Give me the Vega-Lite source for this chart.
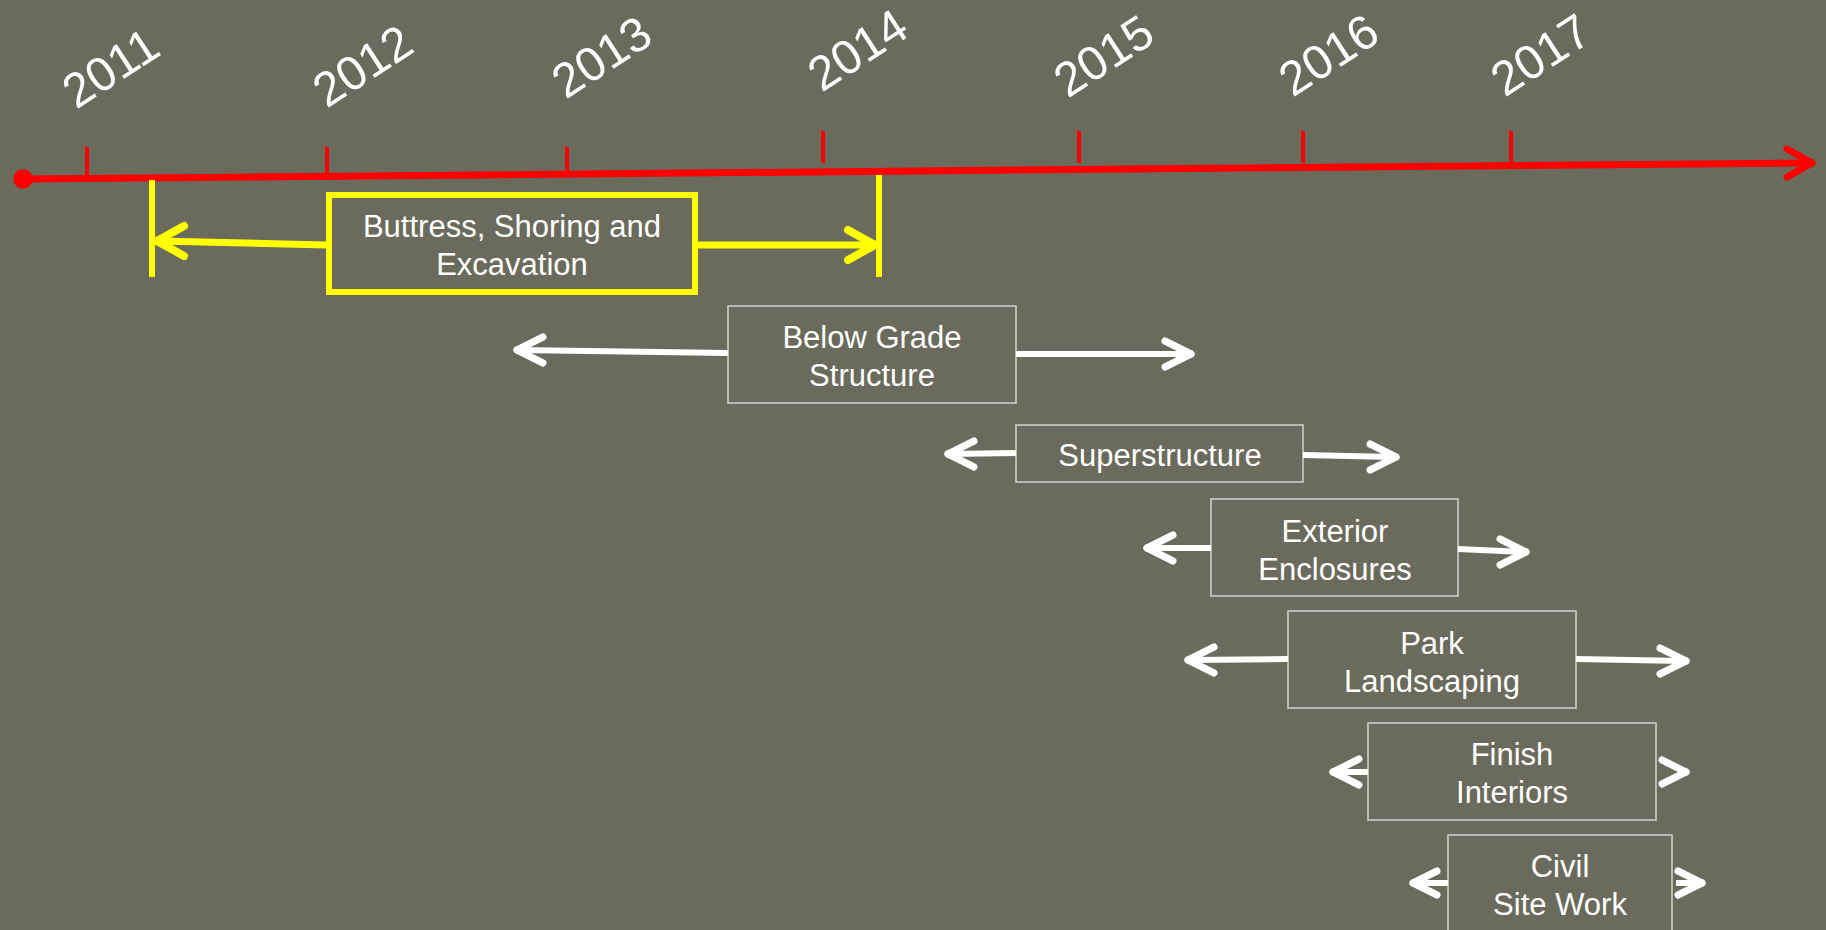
{
  "$schema": "https://vega.github.io/schema/vega-lite/v6.json",
  "width": 1826,
  "height": 930,
  "autosize": {"type": "none"},
  "padding": 0,
  "background": "#6a6b5d",
  "config": {"view": {"stroke": null}},
  "datasets": {
    "segs": [
      {"kind": "axis", "x": 23, "y": 179, "x2": 1810, "y2": 163},
      {"kind": "tick", "x": 87, "y": 147, "x2": 87, "y2": 176},
      {"kind": "tick", "x": 327, "y": 147, "x2": 327, "y2": 175},
      {"kind": "tick", "x": 567, "y": 147, "x2": 567, "y2": 175},
      {"kind": "tick", "x": 823, "y": 131, "x2": 823, "y2": 163},
      {"kind": "tick", "x": 1079, "y": 131, "x2": 1079, "y2": 163},
      {"kind": "tick", "x": 1303, "y": 131, "x2": 1303, "y2": 163},
      {"kind": "tick", "x": 1511, "y": 131, "x2": 1511, "y2": 163},
      {"kind": "redhead", "x": 1787, "y": 149, "x2": 1812, "y2": 163},
      {"kind": "redhead", "x": 1787, "y": 177, "x2": 1812, "y2": 163},
      {"kind": "yvert", "x": 152, "y": 180, "x2": 152, "y2": 277},
      {"kind": "yvert", "x": 879, "y": 175, "x2": 879, "y2": 277},
      {"kind": "yshaft", "x": 327, "y": 245, "x2": 158, "y2": 241},
      {"kind": "yhead", "x": 184, "y": 226, "x2": 157, "y2": 241},
      {"kind": "yhead", "x": 184, "y": 256, "x2": 157, "y2": 241},
      {"kind": "yshaft", "x": 697, "y": 245, "x2": 874, "y2": 245},
      {"kind": "yhead", "x": 848, "y": 230, "x2": 875, "y2": 245},
      {"kind": "yhead", "x": 848, "y": 260, "x2": 875, "y2": 245},
      {"kind": "wshaft", "x": 728, "y": 353, "x2": 518, "y2": 350},
      {"kind": "whead", "x": 543, "y": 337, "x2": 517, "y2": 350},
      {"kind": "whead", "x": 543, "y": 363, "x2": 517, "y2": 350},
      {"kind": "wshaft", "x": 1016, "y": 354, "x2": 1189, "y2": 354},
      {"kind": "whead", "x": 1165, "y": 341, "x2": 1191, "y2": 354},
      {"kind": "whead", "x": 1165, "y": 367, "x2": 1191, "y2": 354},
      {"kind": "wshaft", "x": 1016, "y": 453, "x2": 949, "y2": 454},
      {"kind": "whead", "x": 974, "y": 441, "x2": 948, "y2": 454},
      {"kind": "whead", "x": 974, "y": 467, "x2": 948, "y2": 454},
      {"kind": "wshaft", "x": 1303, "y": 455, "x2": 1394, "y2": 457},
      {"kind": "whead", "x": 1370, "y": 444, "x2": 1396, "y2": 457},
      {"kind": "whead", "x": 1370, "y": 470, "x2": 1396, "y2": 457},
      {"kind": "wshaft", "x": 1211, "y": 548, "x2": 1149, "y2": 548},
      {"kind": "whead", "x": 1173, "y": 535, "x2": 1147, "y2": 548},
      {"kind": "whead", "x": 1173, "y": 561, "x2": 1147, "y2": 548},
      {"kind": "wshaft", "x": 1458, "y": 549, "x2": 1524, "y2": 552},
      {"kind": "whead", "x": 1500, "y": 539, "x2": 1526, "y2": 552},
      {"kind": "whead", "x": 1500, "y": 565, "x2": 1526, "y2": 552},
      {"kind": "wshaft", "x": 1288, "y": 659, "x2": 1190, "y2": 660},
      {"kind": "whead", "x": 1214, "y": 647, "x2": 1188, "y2": 660},
      {"kind": "whead", "x": 1214, "y": 673, "x2": 1188, "y2": 660},
      {"kind": "wshaft", "x": 1576, "y": 659, "x2": 1684, "y2": 661},
      {"kind": "whead", "x": 1660, "y": 648, "x2": 1686, "y2": 661},
      {"kind": "whead", "x": 1660, "y": 674, "x2": 1686, "y2": 661},
      {"kind": "wshaft", "x": 1368, "y": 772, "x2": 1335, "y2": 772},
      {"kind": "whead", "x": 1359, "y": 759, "x2": 1333, "y2": 772},
      {"kind": "whead", "x": 1359, "y": 785, "x2": 1333, "y2": 772},
      {"kind": "whead", "x": 1662, "y": 760, "x2": 1686, "y2": 772},
      {"kind": "whead", "x": 1662, "y": 784, "x2": 1686, "y2": 772},
      {"kind": "wshaft", "x": 1448, "y": 883, "x2": 1415, "y2": 883},
      {"kind": "whead", "x": 1437, "y": 871, "x2": 1413, "y2": 883},
      {"kind": "whead", "x": 1437, "y": 895, "x2": 1413, "y2": 883},
      {"kind": "wshaft", "x": 1676, "y": 883, "x2": 1700, "y2": 883},
      {"kind": "whead", "x": 1678, "y": 871, "x2": 1702, "y2": 883},
      {"kind": "whead", "x": 1678, "y": 895, "x2": 1702, "y2": 883}
    ],
    "boxes": [
      {"kind": "yellow", "x": 329, "x2": 695, "y": 195, "y2": 292},
      {"kind": "white", "x": 728, "x2": 1016, "y": 306, "y2": 403},
      {"kind": "white", "x": 1016, "x2": 1303, "y": 425, "y2": 482},
      {"kind": "white", "x": 1211, "x2": 1458, "y": 499, "y2": 596},
      {"kind": "white", "x": 1288, "x2": 1576, "y": 611, "y2": 708},
      {"kind": "white", "x": 1368, "x2": 1656, "y": 723, "y2": 820},
      {"kind": "white", "x": 1448, "x2": 1672, "y": 835, "y2": 945}
    ],
    "years": [
      {"x": 112, "y": 70, "text": "2011"},
      {"x": 364, "y": 68, "text": "2012"},
      {"x": 603, "y": 59, "text": "2013"},
      {"x": 859, "y": 52, "text": "2014"},
      {"x": 1105, "y": 58, "text": "2015"},
      {"x": 1330, "y": 57, "text": "2016"},
      {"x": 1542, "y": 57, "text": "2017"}
    ],
    "labels": [
      {"x": 512, "y": 228, "text": "Buttress, Shoring and\nExcavation"},
      {"x": 872, "y": 339, "text": "Below Grade\nStructure"},
      {"x": 1160, "y": 457, "text": "Superstructure"},
      {"x": 1335, "y": 533, "text": "Exterior\nEnclosures"},
      {"x": 1432, "y": 645, "text": "Park\nLandscaping"},
      {"x": 1512, "y": 756, "text": "Finish\nInteriors"},
      {"x": 1560, "y": 868, "text": "Civil\nSite Work"}
    ],
    "dot": [{"x": 23, "y": 179}]
  },
  "layer": [
    {
      "data": {"name": "boxes"},
      "transform": [{"filter": "datum.kind == 'white'"}],
      "mark": {"type": "rect", "filled": false, "stroke": "#d4d4cc", "strokeWidth": 1.5},
      "encoding": {
        "x": {"field": "x", "type": "quantitative", "scale": {"domain": [0, 1826], "nice": false, "zero": false}, "axis": null},
        "x2": {"field": "x2"},
        "y": {"field": "y", "type": "quantitative", "scale": {"domain": [0, 930], "nice": false, "zero": false, "reverse": true}, "axis": null},
        "y2": {"field": "y2"}
      }
    },
    {
      "data": {"name": "boxes"},
      "transform": [{"filter": "datum.kind == 'yellow'"}],
      "mark": {"type": "rect", "filled": false, "stroke": "#ffff00", "strokeWidth": 6},
      "encoding": {
        "x": {"field": "x", "type": "quantitative", "scale": {"domain": [0, 1826], "nice": false, "zero": false}, "axis": null},
        "x2": {"field": "x2"},
        "y": {"field": "y", "type": "quantitative", "scale": {"domain": [0, 930], "nice": false, "zero": false, "reverse": true}, "axis": null},
        "y2": {"field": "y2"}
      }
    },
    {
      "data": {"name": "segs"},
      "transform": [{"filter": "datum.kind == 'axis'"}],
      "mark": {"type": "rule", "color": "#ff0000", "strokeWidth": 7},
      "encoding": {
        "x": {"field": "x", "type": "quantitative", "scale": {"domain": [0, 1826], "nice": false, "zero": false}, "axis": null},
        "x2": {"field": "x2"},
        "y": {"field": "y", "type": "quantitative", "scale": {"domain": [0, 930], "nice": false, "zero": false, "reverse": true}, "axis": null},
        "y2": {"field": "y2"}
      }
    },
    {
      "data": {"name": "segs"},
      "transform": [{"filter": "datum.kind == 'tick'"}],
      "mark": {"type": "rule", "color": "#ff0000", "strokeWidth": 4},
      "encoding": {
        "x": {"field": "x", "type": "quantitative", "scale": {"domain": [0, 1826], "nice": false, "zero": false}, "axis": null},
        "x2": {"field": "x2"},
        "y": {"field": "y", "type": "quantitative", "scale": {"domain": [0, 930], "nice": false, "zero": false, "reverse": true}, "axis": null},
        "y2": {"field": "y2"}
      }
    },
    {
      "data": {"name": "segs"},
      "transform": [{"filter": "datum.kind == 'redhead'"}],
      "mark": {"type": "rule", "color": "#ff0000", "strokeWidth": 7, "strokeCap": "round"},
      "encoding": {
        "x": {"field": "x", "type": "quantitative", "scale": {"domain": [0, 1826], "nice": false, "zero": false}, "axis": null},
        "x2": {"field": "x2"},
        "y": {"field": "y", "type": "quantitative", "scale": {"domain": [0, 930], "nice": false, "zero": false, "reverse": true}, "axis": null},
        "y2": {"field": "y2"}
      }
    },
    {
      "data": {"name": "segs"},
      "transform": [{"filter": "datum.kind == 'yvert'"}],
      "mark": {"type": "rule", "color": "#ffff00", "strokeWidth": 6},
      "encoding": {
        "x": {"field": "x", "type": "quantitative", "scale": {"domain": [0, 1826], "nice": false, "zero": false}, "axis": null},
        "x2": {"field": "x2"},
        "y": {"field": "y", "type": "quantitative", "scale": {"domain": [0, 930], "nice": false, "zero": false, "reverse": true}, "axis": null},
        "y2": {"field": "y2"}
      }
    },
    {
      "data": {"name": "segs"},
      "transform": [{"filter": "datum.kind == 'yshaft'"}],
      "mark": {"type": "rule", "color": "#ffff00", "strokeWidth": 7},
      "encoding": {
        "x": {"field": "x", "type": "quantitative", "scale": {"domain": [0, 1826], "nice": false, "zero": false}, "axis": null},
        "x2": {"field": "x2"},
        "y": {"field": "y", "type": "quantitative", "scale": {"domain": [0, 930], "nice": false, "zero": false, "reverse": true}, "axis": null},
        "y2": {"field": "y2"}
      }
    },
    {
      "data": {"name": "segs"},
      "transform": [{"filter": "datum.kind == 'yhead'"}],
      "mark": {"type": "rule", "color": "#ffff00", "strokeWidth": 8, "strokeCap": "round"},
      "encoding": {
        "x": {"field": "x", "type": "quantitative", "scale": {"domain": [0, 1826], "nice": false, "zero": false}, "axis": null},
        "x2": {"field": "x2"},
        "y": {"field": "y", "type": "quantitative", "scale": {"domain": [0, 930], "nice": false, "zero": false, "reverse": true}, "axis": null},
        "y2": {"field": "y2"}
      }
    },
    {
      "data": {"name": "segs"},
      "transform": [{"filter": "datum.kind == 'wshaft'"}],
      "mark": {"type": "rule", "color": "#ffffff", "strokeWidth": 6},
      "encoding": {
        "x": {"field": "x", "type": "quantitative", "scale": {"domain": [0, 1826], "nice": false, "zero": false}, "axis": null},
        "x2": {"field": "x2"},
        "y": {"field": "y", "type": "quantitative", "scale": {"domain": [0, 930], "nice": false, "zero": false, "reverse": true}, "axis": null},
        "y2": {"field": "y2"}
      }
    },
    {
      "data": {"name": "segs"},
      "transform": [{"filter": "datum.kind == 'whead'"}],
      "mark": {"type": "rule", "color": "#ffffff", "strokeWidth": 7, "strokeCap": "round"},
      "encoding": {
        "x": {"field": "x", "type": "quantitative", "scale": {"domain": [0, 1826], "nice": false, "zero": false}, "axis": null},
        "x2": {"field": "x2"},
        "y": {"field": "y", "type": "quantitative", "scale": {"domain": [0, 930], "nice": false, "zero": false, "reverse": true}, "axis": null},
        "y2": {"field": "y2"}
      }
    },
    {
      "data": {"name": "dot"},
      "mark": {"type": "point", "shape": "circle", "filled": true, "color": "#ff0000", "opacity": 1, "size": 380},
      "encoding": {
        "x": {"field": "x", "type": "quantitative", "scale": {"domain": [0, 1826], "nice": false, "zero": false}, "axis": null},
        "y": {"field": "y", "type": "quantitative", "scale": {"domain": [0, 930], "nice": false, "zero": false, "reverse": true}, "axis": null}
      }
    },
    {
      "data": {"name": "years"},
      "mark": {"type": "text", "font": "Arial, Liberation Sans", "fontSize": 48, "color": "#ffffff", "angle": -33, "align": "center", "baseline": "middle"},
      "encoding": {
        "x": {"field": "x", "type": "quantitative", "scale": {"domain": [0, 1826], "nice": false, "zero": false}, "axis": null},
        "y": {"field": "y", "type": "quantitative", "scale": {"domain": [0, 930], "nice": false, "zero": false, "reverse": true}, "axis": null},
        "text": {"field": "text", "type": "nominal"}
      }
    },
    {
      "data": {"name": "labels"},
      "mark": {"type": "text", "font": "Arial, Liberation Sans", "fontSize": 31, "color": "#ffffff", "align": "center", "baseline": "middle", "lineBreak": "\n", "lineHeight": 38},
      "encoding": {
        "x": {"field": "x", "type": "quantitative", "scale": {"domain": [0, 1826], "nice": false, "zero": false}, "axis": null},
        "y": {"field": "y", "type": "quantitative", "scale": {"domain": [0, 930], "nice": false, "zero": false, "reverse": true}, "axis": null},
        "text": {"field": "text", "type": "nominal"}
      }
    }
  ]
}
